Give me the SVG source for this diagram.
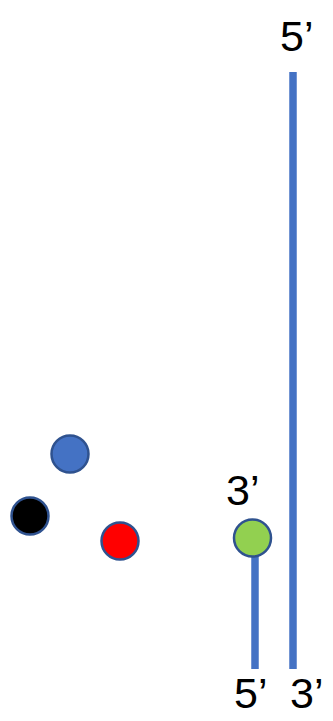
<svg xmlns="http://www.w3.org/2000/svg" width="333" height="721" viewBox="0 0 333 721">
<style>
.dot{stroke:#2F528F;stroke-width:2.5}
.strand{stroke:#4472C4;stroke-width:7.5;fill:none}
.lbl{font-family:"Liberation Sans",Arial,sans-serif;font-size:43px;fill:#000}
</style>
<rect width="333" height="721" fill="#fff"/>
<g id="connectors">
<line class="strand" x1="293" y1="72" x2="293" y2="669"/>
<line class="strand" x1="255" y1="556" x2="255" y2="669"/>
</g>
<g id="blue-dot"><circle class="dot" cx="70" cy="454" r="18.5" fill="#4472C4"/></g>
<g id="black-dot"><circle class="dot" cx="30" cy="516" r="18.5" fill="#000"/></g>
<g id="red-dot"><circle class="dot" cx="120" cy="541" r="18.5" fill="#FF0000"/></g>
<g id="green-dot"><circle class="dot" cx="252.5" cy="538" r="18.5" fill="#92D050"/></g>
<g id="labels">
<text class="lbl" x="280" y="51">5’</text>
<text class="lbl" x="226" y="505">3’</text>
<text class="lbl" x="234" y="708">5’</text>
<text class="lbl" x="290" y="708">3’</text>
</g>
</svg>
